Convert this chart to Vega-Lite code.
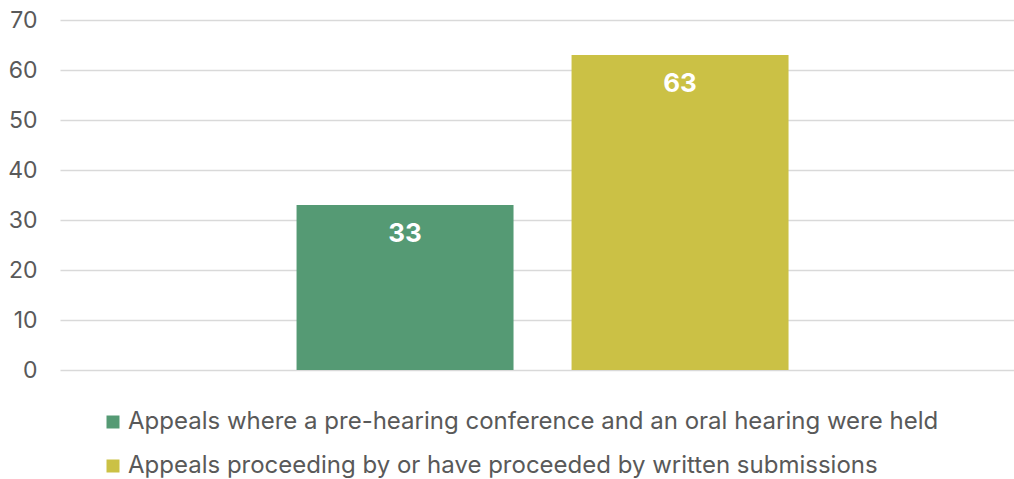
{
  "$schema": "https://vega.github.io/schema/vega-lite/v6.json",
  "width": 954,
  "height": 350,
  "autosize": "none",
  "padding": {"left": 60, "top": 20, "right": 0, "bottom": 109},
  "background": "white",
  "config": {
    "font": "Inter",
    "view": {"stroke": null}
  },
  "data": {
    "values": [
      {"series": "Appeals where a pre-hearing conference and an oral hearing were held", "value": 33},
      {"series": "Appeals proceeding by or have proceeded by written submissions", "value": 63}
    ]
  },
  "encoding": {
    "x": {
      "field": "series",
      "type": "nominal",
      "sort": null,
      "axis": null,
      "scale": {"paddingInner": 0.211, "paddingOuter": 0.84, "align": 0.512}
    },
    "y": {
      "field": "value",
      "type": "quantitative",
      "scale": {"domain": [0, 70], "nice": false},
      "axis": {
        "values": [0, 10, 20, 30, 40, 50, 60, 70],
        "title": null,
        "domain": false,
        "ticks": false,
        "labelPadding": 23,
        "labelFontSize": 23,
        "labelColor": "#595959",
        "labelFont": "Inter",
        "gridColor": "#d9d9d9",
        "gridWidth": 1.5
      }
    }
  },
  "layer": [
    {
      "mark": {"type": "bar"},
      "encoding": {
        "color": {
          "field": "series",
          "type": "nominal",
          "sort": null,
          "scale": {"range": ["#559a74", "#cbc145"]},
          "legend": {
            "title": null,
            "orient": "none",
            "legendX": 41,
            "legendY": 390,
            "direction": "vertical",
            "symbolType": "square",
            "symbolSize": 169,
            "symbolStrokeWidth": 0,
            "labelFontSize": 24,
            "labelColor": "#595959",
            "labelFont": "Inter",
            "labelOffset": 3,
            "rowPadding": 20,
            "labelLimit": 1000,
            "padding": 0
          }
        }
      }
    },
    {
      "mark": {"type": "text", "color": "white", "fontWeight": "bold", "fontSize": 26, "baseline": "middle", "dy": 29},
      "encoding": {
        "text": {"field": "value", "type": "quantitative"}
      }
    }
  ]
}
